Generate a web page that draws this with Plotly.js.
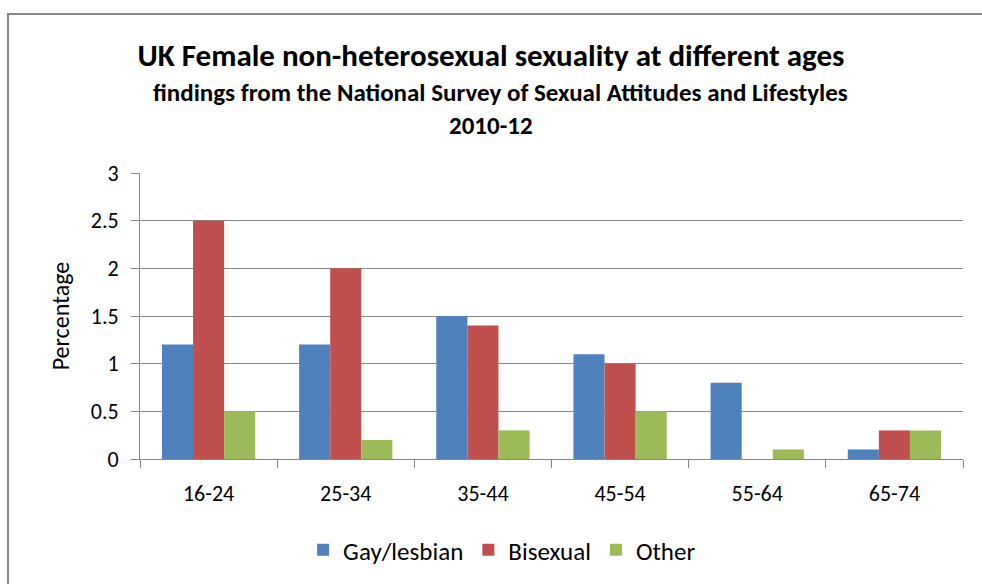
<!DOCTYPE html>
<html>
<head>
<meta charset="utf-8">
<script src="https://cdn.plot.ly/plotly-3.0.1.min.js"></script>
<style>
  body { margin: 0; background: #fff; }
  #frame { position: absolute; left: 7px; top: 13px; width: 1000px; height: 600px; border: 2px solid #878787; box-sizing: border-box; }
  #chart { position: absolute; left: 0; top: 0; width: 982px; height: 584px; }
</style>
</head>
<body>
<div id="frame"></div>
<div id="chart"></div>
<script>
const categories = ["16-24", "25-34", "35-44", "45-54", "55-64", "65-74"];
const gayLesbian = [1.2, 1.2, 1.5, 1.1, 0.8, 0.1];
const bisexual   = [2.5, 2.0, 1.4, 1.0, 0, 0.3];
const other      = [0.5, 0.2, 0.3, 0.5, 0.1, 0.3];
const seriesNames = ["Gay/lesbian", "Bisexual", "Other"];
const yTicks = [0, 0.5, 1, 1.5, 2, 2.5, 3];
const titleLine1 = "UK Female non-heterosexual sexuality at different ages";
const titleLine2 = "findings from the National Survey of Sexual Attitudes and Lifestyles";
const titleLine3 = "2010-12";

const FONT = "Carlito, Lato, 'Open Sans', sans-serif";
const colors = ["#4F81BD", "#C0504D", "#9BBB59"];
const data = [gayLesbian, bisexual, other].map((vals, i) => ({
  type: "bar",
  x: categories,
  y: vals,
  name: seriesNames[i],
  marker: { color: colors[i], line: { width: 0 } }
}));

const layout = {
  width: 982, height: 584,
  paper_bgcolor: "rgba(0,0,0,0)",
  plot_bgcolor: "rgba(0,0,0,0)",
  margin: { l: 140, r: 19, t: 173, b: 124 },
  barmode: "group",
  bargap: 0.32,
  bargroupgap: 0,
  font: { family: FONT, color: "#000", size: 22 },
  title: {
    text: "<b>" + titleLine1 + "</b>",
    font: { family: FONT, size: 31, color: "#000" },
    x: 0.5, xanchor: "center", xref: "container",
    y: 1 - 55 / 584, yanchor: "middle", yref: "container"
  },
  annotations: [
    { text: "<b>" + titleLine2 + "</b>", xref: "paper", yref: "paper", x: (500 - 140) / 823, y: (460 - 92) / 287,
      xanchor: "center", yanchor: "middle", showarrow: false, font: { family: FONT, size: 25, color: "#000" } },
    { text: "<b>" + titleLine3 + "</b>", xref: "paper", yref: "paper", x: (491 - 140) / 823, y: (460 - 125) / 287,
      xanchor: "center", yanchor: "middle", showarrow: false, font: { family: FONT, size: 25, color: "#000" } }
  ],
  xaxis: {
    type: "category",
    showline: true, linecolor: "#878787", linewidth: 1,
    ticks: "outside", tickson: "boundaries", ticklen: 8, tickcolor: "#878787",
    ticklabelstandoff: 15,
    tickfont: { size: 22, family: FONT, color: "#000" },
    showgrid: false
  },
  yaxis: {
    range: [0, 3],
    tickvals: yTicks,
    ticktext: yTicks.map(String),
    showline: true, linecolor: "#878787", linewidth: 1,
    ticks: "outside", ticklen: 8, tickcolor: "#878787",
    ticklabelstandoff: 8,
    gridcolor: "#878787", gridwidth: 1,
    zeroline: false,
    tickfont: { size: 22, family: FONT, color: "#000" },
    title: { text: "Percentage", font: { size: 24, family: FONT, color: "#000" }, standoff: 14 }
  },
  legend: {
    orientation: "h",
    x: 0.44, xanchor: "center",
    y: (460 - 550) / 287, yanchor: "middle",
    font: { size: 25, family: FONT, color: "#000" },
    itemwidth: 30
  },
  showlegend: true
};

Plotly.newPlot("chart", data, layout, { displayModeBar: false, staticPlot: true });
</script>
</body>
</html>
